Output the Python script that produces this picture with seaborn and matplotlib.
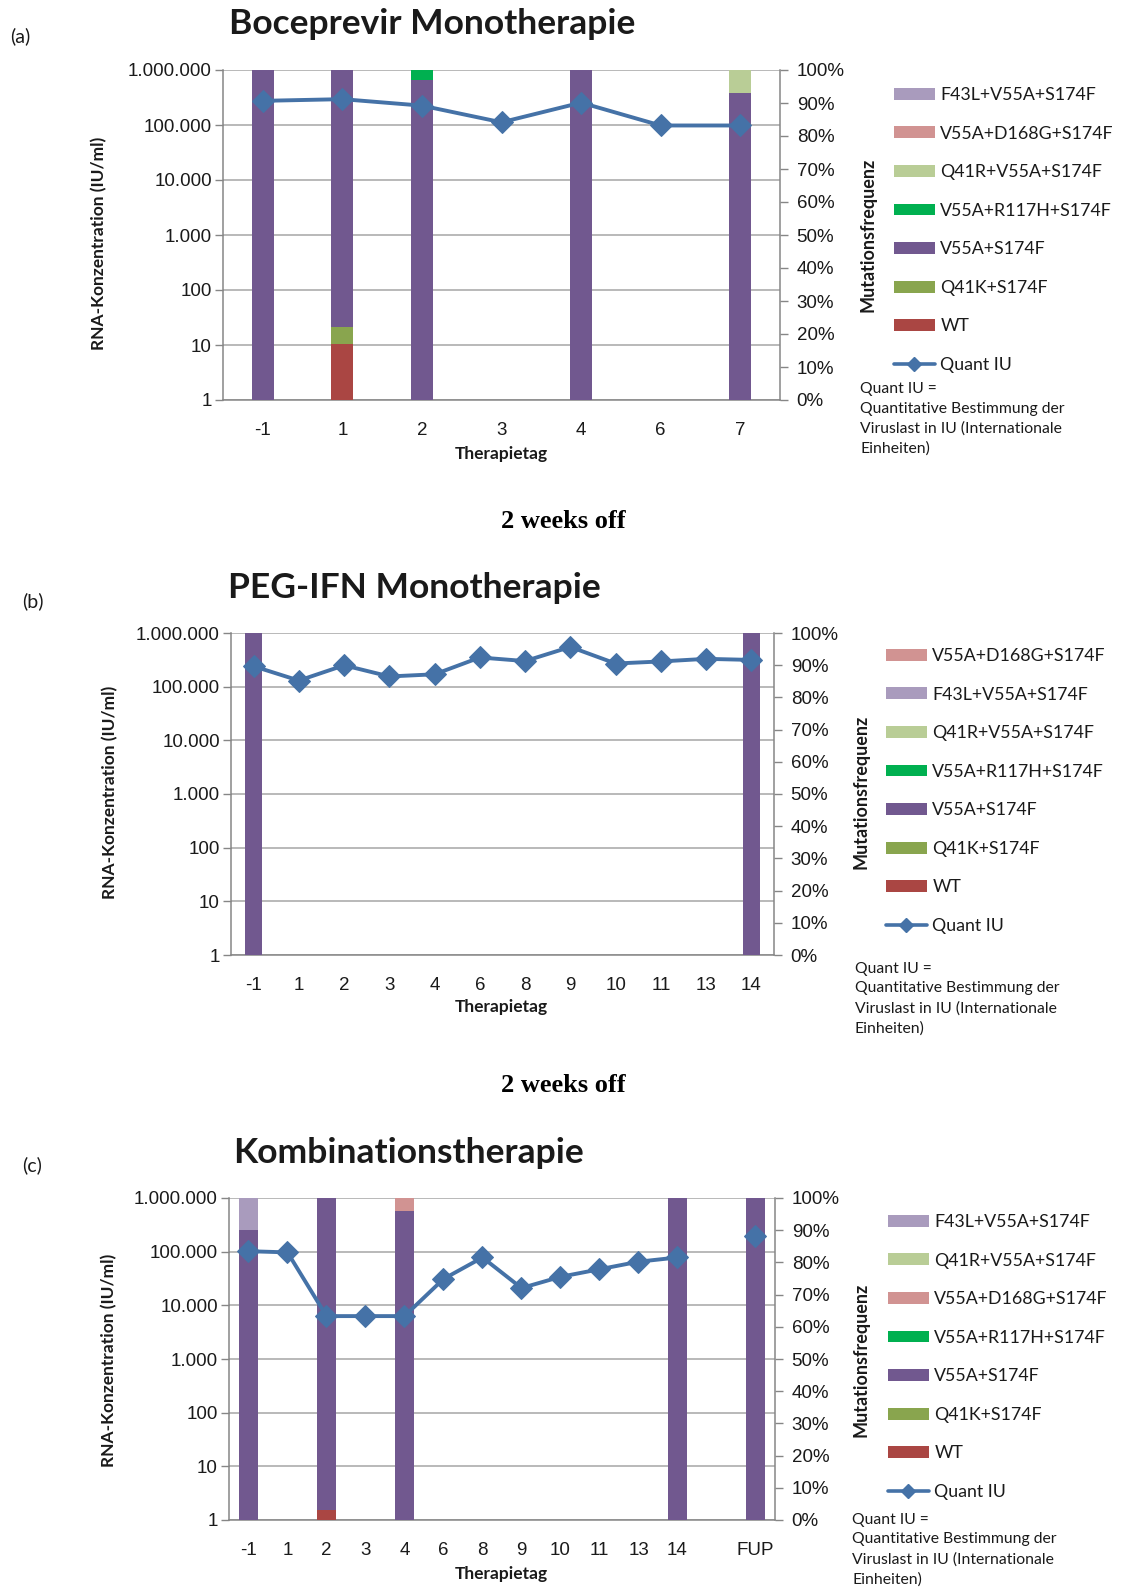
"""
Boceprevir / PEG-IFN / Kombination: viral load and mutation frequencies
"""
import numpy as np
import pandas as pd
import seaborn as sns
import matplotlib.pyplot as plt
from matplotlib.patches import Patch
from matplotlib.lines import Line2D
from matplotlib.ticker import FixedLocator, FuncFormatter

sns.set_style("white")
plt.rcParams['font.family'] = ['Liberation Sans', 'DejaVu Sans']

W, H = 1124, 1591

# ---- data -------------------------------------------------------------
DAYS_A = ['-1', '1', '2', '3', '4', '6', '7']
QUANT_A = [275000, 295000, 225000, 112000, 255000, 98000, 98000]
WT_A = [0, 17, 0, 0, 0, 0, 0]
Q41K_A = [0, 5, 0, 0, 0, 0, 0]
V55A_A = [100, 78, 97, 0, 100, 0, 93]
R117H_A = [0, 0, 3, 0, 0, 0, 0]
Q41R_A = [0, 0, 0, 0, 0, 0, 7]

DAYS_B = ['-1', '1', '2', '3', '4', '6', '8', '9', '10', '11', '13', '14']
QUANT_B = [240000, 130000, 250000, 155000, 170000, 350000, 300000, 550000,
           270000, 295000, 330000, 315000]
V55A_B = [100, 0, 0, 0, 0, 0, 0, 0, 0, 0, 0, 100]

DAYS_C = ['-1', '1', '2', '3', '4', '6', '8', '9', '10', '11', '13', '14', '', 'FUP']
QUANT_C = [102000, 97000, 6300, 6300, 6300, 31000, 78000, 21000, 34000, 47000,
           65000, 78000, np.nan, 200000]
WT_C = [0, 0, 3, 0, 0, 0, 0, 0, 0, 0, 0, 0, 0, 0]
V55A_C = [90, 0, 97, 0, 96, 0, 0, 0, 0, 0, 0, 100, 0, 100]
D168G_C = [0, 0, 0, 0, 4, 0, 0, 0, 0, 0, 0, 0, 0, 0]
F43L_C = [10, 0, 0, 0, 0, 0, 0, 0, 0, 0, 0, 0, 0, 0]

STACK_ORDER = ['WT', 'Q41K+S174F', 'V55A+S174F', 'V55A+R117H+S174F',
               'V55A+D168G+S174F', 'Q41R+V55A+S174F', 'F43L+V55A+S174F']
COLORS = {
    'WT': '#AA4643',
    'Q41K+S174F': '#89A54E',
    'V55A+S174F': '#71588F',
    'V55A+R117H+S174F': '#00B050',
    'V55A+D168G+S174F': '#D19392',
    'Q41R+V55A+S174F': '#B9CD96',
    'F43L+V55A+S174F': '#A99BBD',
}
LINE_COLOR = '#4572A7'
GRID = '#A6A6A6'
AXIS = '#868686'
TXT = '#1a1a1a'
CALIBRI = ['Lato', 'DejaVu Sans']

LEGEND_A = ['F43L+V55A+S174F', 'V55A+D168G+S174F', 'Q41R+V55A+S174F',
            'V55A+R117H+S174F', 'V55A+S174F', 'Q41K+S174F', 'WT']
LEGEND_B = ['V55A+D168G+S174F', 'F43L+V55A+S174F', 'Q41R+V55A+S174F',
            'V55A+R117H+S174F', 'V55A+S174F', 'Q41K+S174F', 'WT']
LEGEND_C = ['F43L+V55A+S174F', 'Q41R+V55A+S174F', 'V55A+D168G+S174F',
            'V55A+R117H+S174F', 'V55A+S174F', 'Q41K+S174F', 'WT']

NOTE = "Quant IU =\nQuantitative Bestimmung der\nViruslast in IU (Internationale\nEinheiten)"


def fx(px):
    return px / W


def fy(py):
    return 1 - py / H


def draw_panel(fig, box, days, quant, freqs, legend_order, bar_width,
               label, title, texts):
    left, right, top, bottom = box
    rect = [fx(left), fy(bottom), (right - left) / W, (bottom - top) / H]
    n = len(days)
    pos = np.arange(n)

    # log axis with the grid (left)
    ax = fig.add_axes(rect)
    ax.set_yscale('log')
    ax.set_ylim(1, 1e6)
    ax.set_xlim(-0.5, n - 0.5)
    decades = [10.0 ** k for k in range(7)]
    ax.yaxis.set_major_locator(FixedLocator(decades))
    ax.yaxis.set_minor_locator(FixedLocator([]))
    ax.yaxis.set_major_formatter(FuncFormatter(lambda v, p: f"{int(round(v)):,}".replace(',', '.')))
    ax.grid(axis='y', color=GRID, lw=1.1)
    ax.set_xticks(pos)
    ax.set_xticklabels(days)
    ax.set_xticks(np.arange(n + 1) - 0.5, minor=True)
    ax.tick_params(axis='x', which='major', length=0, pad=16, labelsize=13.5, labelcolor=TXT)
    ax.tick_params(axis='x', which='minor', length=6, color=AXIS, width=1)
    ax.tick_params(axis='y', which='major', length=6, color=AXIS, width=1, labelsize=13.5,
                   labelcolor=TXT, pad=2, left=True)
    for s in ['top', 'right']:
        ax.spines[s].set_visible(False)
    for s in ['left', 'bottom']:
        ax.spines[s].set_color(AXIS)
        ax.spines[s].set_linewidth(1.1)

    # percent axis with stacked bars (right)
    axb = ax.twinx()
    axb.set_ylim(0, 100)
    axb.set_xlim(-0.5, n - 0.5)
    base = np.zeros(n)
    for name in STACK_ORDER:
        vals = np.array(freqs.get(name, np.zeros(n)), dtype=float)
        if vals.sum() == 0:
            continue
        axb.bar(pos, vals, bottom=base, width=bar_width, color=COLORS[name], linewidth=0)
        base += vals
    axb.set_yticks(np.arange(0, 101, 10))
    axb.set_yticklabels([f"{v}%" for v in range(0, 101, 10)])
    axb.tick_params(axis='y', length=6, color=AXIS, width=1, labelsize=13.5,
                    labelcolor=TXT, pad=6, right=True)
    for s in ['top', 'left', 'bottom']:
        axb.spines[s].set_visible(False)
    axb.spines['right'].set_color(AXIS)
    axb.spines['right'].set_linewidth(1.1)

    # line on top of everything
    axl = ax.twinx()
    axl.set_yscale('log')
    axl.set_ylim(1, 1e6)
    axl.set_xlim(-0.5, n - 0.5)
    df = pd.DataFrame({'pos': pos, 'quant': quant})
    df['run'] = df['quant'].isna().cumsum()
    df = df.dropna()
    sns.lineplot(data=df, x='pos', y='quant', units='run', estimator=None, ax=axl,
                 color=LINE_COLOR, lw=2.8, marker='D', markersize=11,
                 markeredgecolor=LINE_COLOR, legend=False)
    axl.axis('off')

    # texts
    fig.text(fx(texts['label'][0]), fy(texts['label'][1]), label, fontsize=14,
             family=CALIBRI, ha='left', va='center', color=TXT)
    fig.text(fx(texts['title'][0]), fy(texts['title'][1]), title, fontsize=25.5,
             family=CALIBRI, weight='bold', ha='center', va='center', color=TXT)
    fig.text(fx(texts['xlabel'][0]), fy(texts['xlabel'][1]), 'Therapietag', fontsize=12.5,
             family=CALIBRI, weight='bold', ha='center', va='center', color=TXT)
    fig.text(fx(texts['ylabel'][0]), fy(texts['ylabel'][1]), 'RNA-Konzentration (IU/ml)',
             fontsize=12.5, family=CALIBRI, weight='bold', ha='center', va='center',
             rotation=90, color=TXT)
    fig.text(fx(texts['ylabel2'][0]), fy(texts['ylabel2'][1]), 'Mutationsfrequenz',
             fontsize=13, family=CALIBRI, weight='bold', ha='center', va='center',
             rotation=90, color=TXT)

    handles = [Patch(facecolor=COLORS[k], edgecolor='none') for k in legend_order]
    handles.append(Line2D([], [], color=LINE_COLOR, lw=2.6, marker='D', markersize=7))
    labels = legend_order + ['Quant IU']
    fig.legend(handles, labels, loc='upper left',
               bbox_to_anchor=(fx(texts['legend'][0]), fy(texts['legend'][1])),
               frameon=False, borderpad=0, borderaxespad=0, handlelength=2.3,
               handleheight=0.65, handletextpad=0.3, labelspacing=1.27,
               prop={'family': CALIBRI, 'size': 12.8}, labelcolor=TXT)
    fig.text(fx(texts['note'][0]), fy(texts['note'][1]), NOTE, fontsize=11.3,
             family=CALIBRI, ha='left', va='top', linespacing=1.5, color=TXT)


fig = plt.figure(figsize=(W / 100, H / 100), dpi=100)

freqs_a = {'WT': WT_A, 'Q41K+S174F': Q41K_A, 'V55A+S174F': V55A_A,
           'V55A+R117H+S174F': R117H_A, 'Q41R+V55A+S174F': Q41R_A}
draw_panel(fig, (223, 780, 70, 400), DAYS_A, QUANT_A, freqs_a, LEGEND_A, 0.28,
           '(a)', 'Boceprevir Monotherapie',
           {'label': (10, 36), 'title': (432, 24), 'xlabel': (501, 454),
            'ylabel': (99, 243), 'ylabel2': (868, 235), 'legend': (894, 87),
            'note': (860, 382)})

freqs_b = {'V55A+S174F': V55A_B}
draw_panel(fig, (231, 774, 633, 955), DAYS_B, QUANT_B, freqs_b, LEGEND_B, 0.38,
           '(b)', 'PEG-IFN Monotherapie',
           {'label': (22, 601), 'title': (414, 588), 'xlabel': (501, 1007),
            'ylabel': (110, 792), 'ylabel2': (861, 792), 'legend': (886, 648),
            'note': (855, 962)})

freqs_c = {'WT': WT_C, 'V55A+S174F': V55A_C, 'V55A+D168G+S174F': D168G_C,
           'F43L+V55A+S174F': F43L_C}
draw_panel(fig, (229, 775, 1198, 1520), DAYS_C, QUANT_C, freqs_c, LEGEND_C, 0.48,
           '(c)', 'Kombinationstherapie',
           {'label': (22, 1165), 'title': (408, 1153), 'xlabel': (501, 1574),
            'ylabel': (109, 1360), 'ylabel2': (861, 1360), 'legend': (888, 1214),
            'note': (852, 1513)})

for y in (522, 1086):
    fig.text(fx(563), fy(y), '2 weeks off', fontsize=19, family=['Liberation Serif'],
             weight='bold', ha='center', va='center', color='black')

fig.savefig('out.png', dpi=100, facecolor='white')
